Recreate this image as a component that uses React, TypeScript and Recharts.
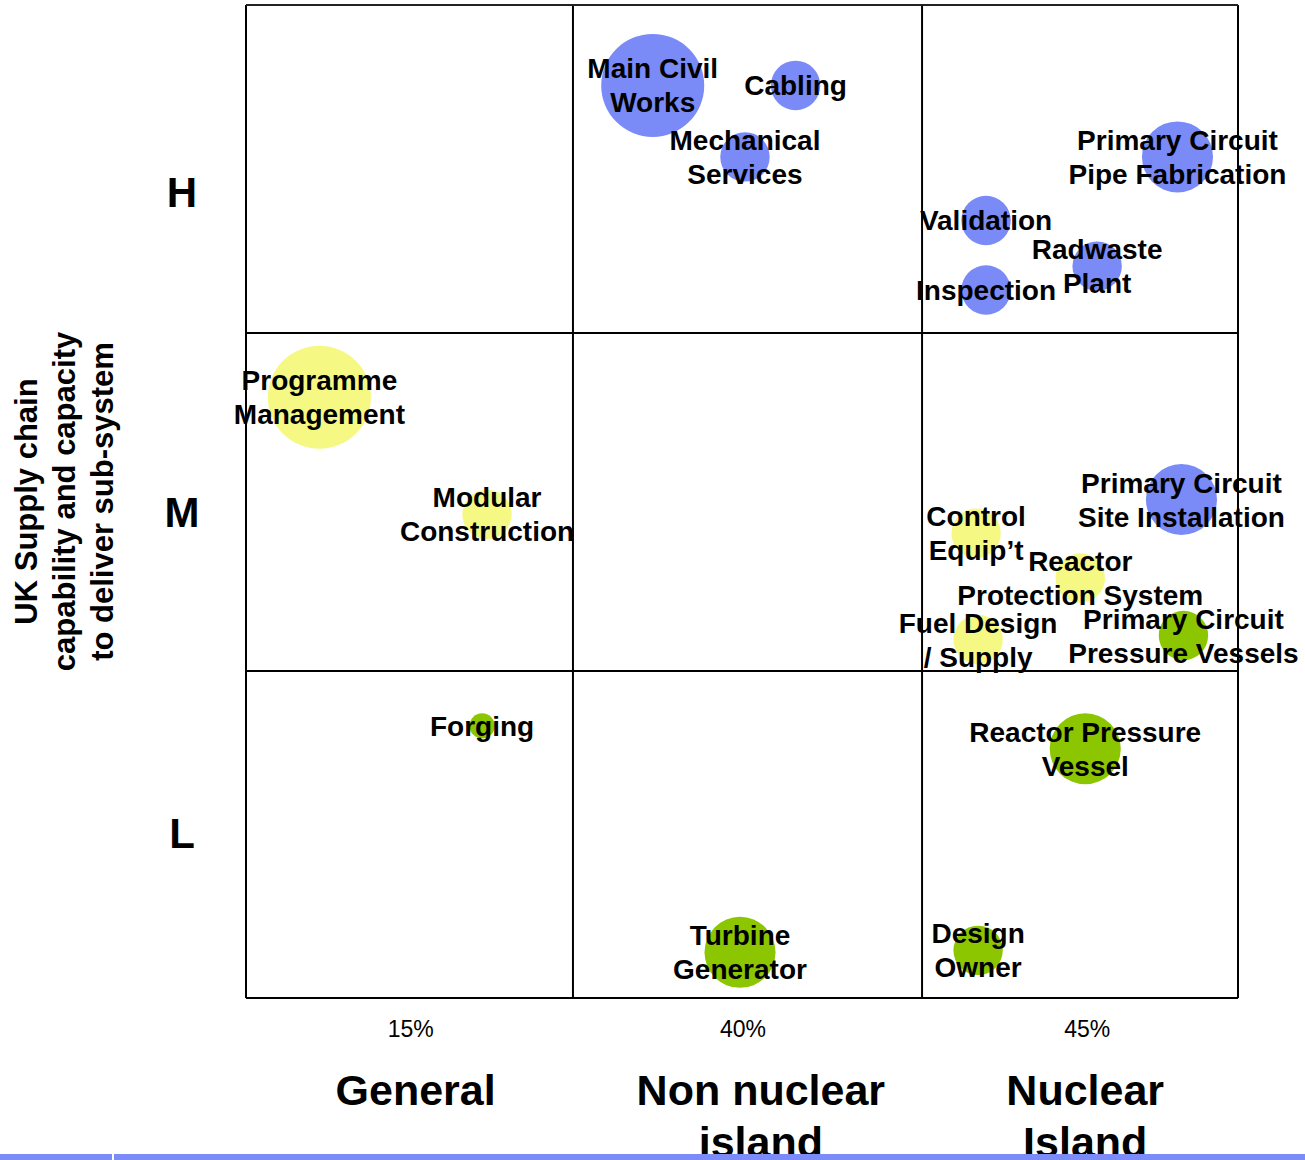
import React from "react";
import { ReferenceLine, Scatter, ScatterChart, XAxis, YAxis, ZAxis } from "recharts";

// bubbles: position in % of plot width / height, size relative to the small bubbles
const bubbleLabels = [
  "Main Civil\nWorks",
  "Cabling",
  "Mechanical\nServices",
  "Primary Circuit\nPipe Fabrication",
  "Validation",
  "Radwaste\nPlant",
  "Inspection",
  "Programme\nManagement",
  "Modular\nConstruction",
  "Control\nEquip\u2019t",
  "Primary Circuit\nSite Installation",
  "Reactor\nProtection System",
  "Fuel Design\n/ Supply",
  "Primary Circuit\nPressure Vessels",
  "Forging",
  "Reactor Pressure\nVessel",
  "Turbine\nGenerator",
  "Design\nOwner",
];
const bubbleX = [41.0, 55.4, 50.3, 93.9, 74.6, 85.8, 74.6, 7.4, 24.3, 73.6, 94.3, 84.1, 73.8, 94.5, 23.8, 84.6, 49.8, 73.8];
const bubbleY = [91.9, 91.9, 84.7, 84.7, 78.3, 73.7, 71.3, 60.5, 48.7, 46.8, 50.2, 42.3, 36.1, 36.5, 27.4, 25.1, 4.6, 4.8];
const bubbleSize = [4.35, 1, 1, 2.07, 1, 1, 1, 4.35, 1, 1, 2.07, 1, 1, 1, 0.26, 2.07, 2.07, 1];
const bubbleGroup = [
  "blue", "blue", "blue", "blue", "blue", "blue", "blue",
  "yellow", "yellow", "yellow", "blue", "yellow", "yellow", "green",
  "green", "green", "green", "green",
];

const groupColors: Record<string, string> = {
  blue: "#7A8AF6",
  yellow: "#F5F983",
  green: "#8CC600",
};

const percentTicks = [16.6, 50.1, 84.8];
const percentLabels = ["15%", "40%", "45%"];
const areaTicks = [17.1, 51.9, 84.6];
const areaLabels = ["General", "Non nuclear\nisland", "Nuclear\nIsland"];
const levelTicks = [16.6, 48.9, 81.2];
const levelLabels = ["L", "M", "H"];
const columnBreaks = [32.96, 68.15];
const rowBreaks = [32.93, 66.97];

const yTitleLines = ["UK Supply chain", "capability and capacity", "to deliver sub-system"];

const data = bubbleLabels.map((label, i) => ({
  label,
  x: bubbleX[i],
  y: bubbleY[i],
  z: bubbleSize[i],
  group: bubbleGroup[i],
}));

const FONT = '"Liberation Sans", Arial, Helvetica, sans-serif';

function Bubble(props: any) {
  const { cx, cy, width, payload } = props;
  return <circle cx={cx} cy={cy} r={width / 2} fill={groupColors[payload.group]} />;
}

function BubbleLabel(props: any) {
  const { cx, cy, payload } = props;
  const lines = String(payload.label).split("\n");
  const lh = 34;
  const top = cy - ((lines.length - 1) * lh) / 2;
  return (
    <text textAnchor="middle" fontFamily={FONT} fontSize={28} fontWeight="bold" fill="#000">
      {lines.map((line, i) => (
        <tspan key={i} x={cx} y={top + i * lh + 10}>
          {line}
        </tspan>
      ))}
    </text>
  );
}

function PercentTick(props: any) {
  const { x, y, index } = props;
  return (
    <text x={x} y={y + 39} textAnchor="middle" fontFamily={FONT} fontSize={23} fill="#000">
      {percentLabels[index]}
    </text>
  );
}

function AreaTick(props: any) {
  const { x, y, index } = props;
  const lines = areaLabels[index].split("\n");
  return (
    <text textAnchor="middle" fontFamily={FONT} fontSize={43} fontWeight="bold" fill="#000">
      {lines.map((line, i) => (
        <tspan key={i} x={x} y={y + 47 + i * 52}>
          {line}
        </tspan>
      ))}
    </text>
  );
}

function LevelTick(props: any) {
  const { x, y, index } = props;
  return (
    <text x={x - 64} y={y + 15} textAnchor="middle" fontFamily={FONT} fontSize={42} fontWeight="bold" fill="#000">
      {levelLabels[index]}
    </text>
  );
}

function YTitle(props: any) {
  const vb = props.viewBox || { y: 5, height: 993 };
  const cy = vb.y + vb.height / 2;
  const baselines = [37, 75, 113];
  return (
    <g>
      {yTitleLines.map((line, i) => (
        <text
          key={i}
          x={baselines[i]}
          y={cy}
          transform={`rotate(-90 ${baselines[i]} ${cy})`}
          textAnchor="middle"
          fontFamily={FONT}
          fontSize={31}
          fontWeight="bold"
          fill="#000"
        >
          {line}
        </text>
      ))}
    </g>
  );
}

export default function App() {
  return (
    <div
      style={{
        position: "absolute",
        left: 0,
        top: 0,
        width: 1305,
        height: 1160,
        overflow: "hidden",
        background: "#fff",
      }}
    >
      <ScatterChart width={1305} height={1160} margin={{ top: 5, right: 67, bottom: 0, left: 0 }}>
        <XAxis
          dataKey="x"
          type="number"
          domain={[0, 100]}
          ticks={percentTicks}
          tick={<PercentTick />}
          tickLine={false}
          axisLine={false}
          tickSize={0}
          tickMargin={0}
          height={60}
        />
        <XAxis
          xAxisId="area"
          dataKey="x"
          type="number"
          domain={[0, 100]}
          ticks={areaTicks}
          tick={<AreaTick />}
          tickLine={false}
          axisLine={false}
          tickSize={0}
          tickMargin={0}
          height={102}
        />
        <YAxis
          dataKey="y"
          type="number"
          domain={[0, 100]}
          ticks={levelTicks}
          tick={<LevelTick />}
          tickLine={false}
          axisLine={false}
          tickSize={0}
          tickMargin={0}
          width={246}
          label={<YTitle />}
        />
        <ZAxis dataKey="z" type="number" domain={[0, 4.4]} range={[0, 8430]} />
        {columnBreaks.map((v) => (
          <ReferenceLine key={`c${v}`} x={v} stroke="#000" strokeWidth={2} />
        ))}
        {rowBreaks.map((v) => (
          <ReferenceLine key={`r${v}`} y={v} stroke="#000" strokeWidth={2} />
        ))}
        <ReferenceLine x={0} stroke="#000" strokeWidth={2} />
        <ReferenceLine x={100} stroke="#000" strokeWidth={2} />
        <ReferenceLine y={0} stroke="#000" strokeWidth={2} />
        <ReferenceLine y={100} stroke="#222" strokeWidth={2} />
        <Scatter data={data} shape={<Bubble />} isAnimationActive={false} />
        <Scatter xAxisId="area" data={data} shape={<BubbleLabel />} isAnimationActive={false} />
      </ScatterChart>
      <div
        style={{
          position: "absolute",
          left: 0,
          top: 1154,
          width: 1305,
          height: 6,
          background: "#7B8BF8",
        }}
      >
        <div style={{ position: "absolute", left: 112, top: 0, width: 2, height: 6, background: "#fff" }} />
      </div>
    </div>
  );
}
